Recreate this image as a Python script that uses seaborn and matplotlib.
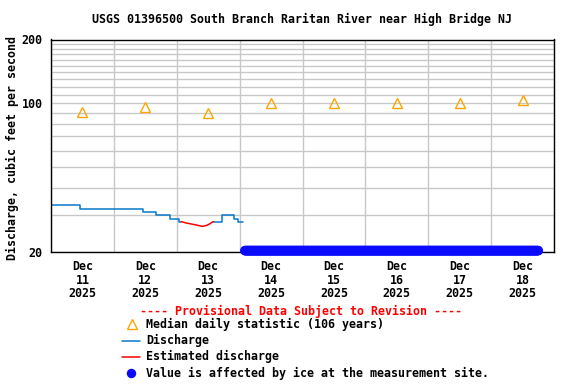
import matplotlib
matplotlib.use("Agg")
import numpy as np
import pandas as pd
import matplotlib.pyplot as plt
import matplotlib.dates as mdates
import seaborn as sns
from matplotlib.lines import Line2D
from matplotlib.ticker import FixedLocator, FuncFormatter, NullFormatter

# ---------------- data ----------------
title = "USGS 01396500 South Branch Raritan River near High Bridge NJ"
ylabel = "Discharge, cubic feet per second"

q_times = ["2025-12-11 00:00", "2025-12-11 11:15", "2025-12-12 11:15",
           "2025-12-12 16:15", "2025-12-12 21:15", "2025-12-13 01:00",
           "2025-12-13 01:45"]
q_values = [33.3, 31.9, 30.8, 29.9, 28.5, 27.8, 27.8]

est_times = ["2025-12-13 01:45", "2025-12-13 03:30", "2025-12-13 05:30",
             "2025-12-13 07:30", "2025-12-13 09:45", "2025-12-13 11:30",
             "2025-12-13 12:30", "2025-12-13 13:30", "2025-12-13 14:00"]
est_values = [27.8, 27.4, 27.1, 26.8, 26.4, 26.7, 27.1, 27.6, 27.8]

q2_times = ["2025-12-13 14:00", "2025-12-13 17:15", "2025-12-13 21:45",
            "2025-12-13 23:30", "2025-12-14 01:15"]
q2_values = [27.8, 29.9, 28.5, 27.8, 27.8]

median_times = ["2025-12-11 12:00", "2025-12-12 12:00", "2025-12-13 12:00",
                "2025-12-14 12:00", "2025-12-15 12:00", "2025-12-16 12:00",
                "2025-12-17 12:00", "2025-12-18 12:00"]
median_values = [91, 96, 90, 100, 100, 100, 100, 104]

ice_start = "2025-12-14 02:00"
ice_end = "2025-12-18 18:00"
ice_level = 20.3

day_labels = ["Dec\n11\n2025", "Dec\n12\n2025", "Dec\n13\n2025", "Dec\n14\n2025",
              "Dec\n15\n2025", "Dec\n16\n2025", "Dec\n17\n2025", "Dec\n18\n2025"]
y_major = [20, 100, 200]
y_minor = [30, 40, 50, 60, 70, 80, 90, 100, 110, 120, 130, 140, 150, 160, 170, 180, 190]

# ---------------- style ----------------
sns.set_style("white")
plt.rcParams["font.family"] = ["DejaVu Sans Mono"]
plt.rcParams["font.weight"] = "bold"
plt.rcParams["text.color"] = "black"
plt.rcParams["xtick.color"] = "black"
plt.rcParams["ytick.color"] = "black"
plt.rcParams["xtick.labelcolor"] = "black"
plt.rcParams["ytick.labelcolor"] = "black"
FS = 8.4

df_q = pd.DataFrame({"t": pd.to_datetime(q_times), "v": q_values})
df_q2 = pd.DataFrame({"t": pd.to_datetime(q2_times), "v": q2_values})
df_e = pd.DataFrame({"t": pd.to_datetime(est_times), "v": est_values})
df_m = pd.DataFrame({"t": pd.to_datetime(median_times), "v": median_values})
ice_t = pd.date_range(ice_start, ice_end, freq="15min")
df_i = pd.DataFrame({"t": ice_t, "v": [ice_level] * len(ice_t)})

fig = plt.figure(figsize=(5.76, 3.84), dpi=100)
ax = fig.add_axes([51 / 576, 1 - 252 / 384, 503 / 576, 212.5 / 384])

blue = "#0a78c8"
sns.lineplot(data=df_q, x="t", y="v", ax=ax, color=blue, lw=1.1,
             drawstyle="steps-post", estimator=None, sort=False)
sns.lineplot(data=df_q2, x="t", y="v", ax=ax, color=blue, lw=1.1,
             drawstyle="steps-post", estimator=None, sort=False)
sns.lineplot(data=df_e, x="t", y="v", ax=ax, color="red", lw=1.1,
             estimator=None, sort=False)
ax.plot(df_m["t"], df_m["v"], ls="none", marker="^", markersize=7,
        markerfacecolor="none", markeredgecolor="orange", markeredgewidth=1.0)
sns.scatterplot(data=df_i, x="t", y="v", ax=ax, color="#0a0aff", s=48,
                edgecolor="none", linewidth=0, clip_on=False, zorder=5)

ax.set_yscale("log")
ax.set_ylim(20, 200)
ax.set_xlim(pd.Timestamp("2025-12-11 00:00"), pd.Timestamp("2025-12-19 00:00"))

ax.yaxis.set_major_locator(FixedLocator(y_major))
ax.yaxis.set_major_formatter(FuncFormatter(lambda v, p: "%d" % v))
ax.yaxis.set_minor_locator(FixedLocator(y_minor))
ax.yaxis.set_minor_formatter(NullFormatter())

ax.set_xticks(mdates.date2num(pd.to_datetime(median_times)))
ax.set_xticklabels(day_labels, fontsize=FS, fontweight="bold", linespacing=1.05,
                   color="black")
ax.xaxis.set_minor_locator(mdates.DayLocator())

ax.tick_params(axis="both", which="both", length=0)
ax.tick_params(axis="x", pad=6)
ax.tick_params(axis="y", pad=6)
for lab in ax.get_yticklabels():
    lab.set_fontsize(FS)
    lab.set_fontweight("bold")
    lab.set_color("black")

ax.grid(False)
ax.xaxis.grid(True, which="minor", color="#c8c8c8", lw=1.0)
ax.yaxis.grid(True, which="both", color="#c8c8c8", lw=1.0)
ax.set_axisbelow(True)
for s in ax.spines.values():
    s.set_color("black")
    s.set_linewidth(1.0)
ax.set_xlabel("")
ax.set_ylabel("")

fig.text(302.5 / 576, 1 - 19 / 384, title, ha="center", va="center",
         fontsize=FS, fontweight="bold", color="black")
fig.text(12 / 576, 1 - 148 / 384, ylabel, rotation=90, ha="center", va="center",
         fontsize=FS, fontweight="bold", color="black")

# ---------------- legend ----------------
def fy(y):
    return 1 - y / 384

def fx(x):
    return x / 576

fig.text(fx(301), fy(311), "---- Provisional Data Subject to Revision ----",
         ha="center", va="center", color="red", fontsize=FS, fontweight="bold")
fig.add_artist(Line2D([fx(131.5)], [fy(323.5)], marker="^", markersize=7,
                      markerfacecolor="none", markeredgecolor="orange",
                      markeredgewidth=1.0, ls="none", transform=fig.transFigure))
fig.add_artist(Line2D([fx(122), fx(140)], [fy(341), fy(341)], color=blue, lw=1.1,
                      transform=fig.transFigure))
fig.add_artist(Line2D([fx(122), fx(140)], [fy(357), fy(357)], color="red", lw=1.1,
                      transform=fig.transFigure))
fig.add_artist(Line2D([fx(131)], [fy(373)], marker="o", markersize=5.8,
                      markerfacecolor="#0a0aff", markeredgecolor="#0a0aff",
                      ls="none", transform=fig.transFigure))
legend_texts = ["Median daily statistic (106 years)", "Discharge",
                "Estimated discharge", "Value is affected by ice at the measurement site."]
for txt, y in zip(legend_texts, [324, 340, 356, 373]):
    fig.text(fx(146), fy(y), txt, ha="left", va="center", fontsize=FS,
             fontweight="bold", color="black")

fig.savefig("out.png", dpi=100)
